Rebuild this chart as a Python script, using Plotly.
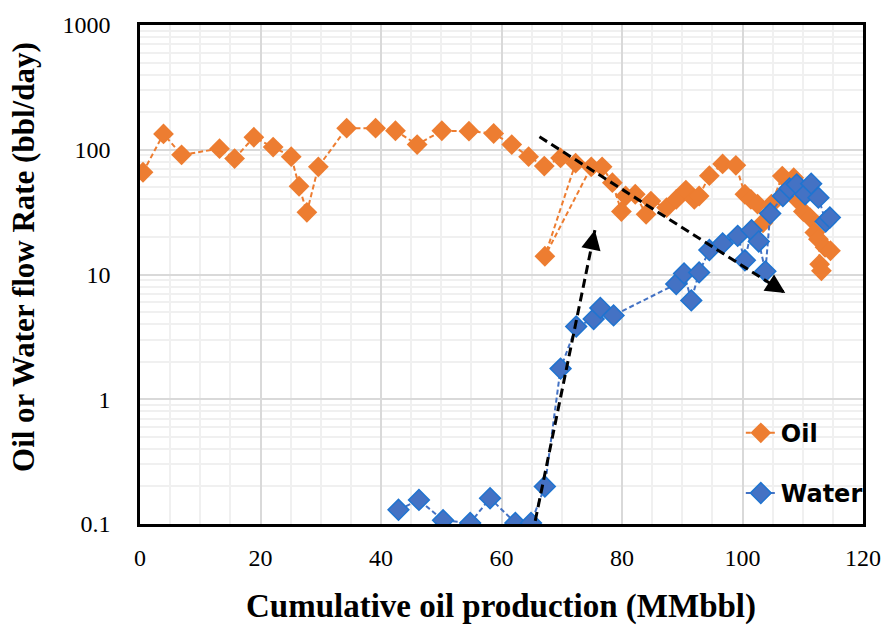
import plotly.graph_objects as go
import math

# Cumulative oil production (MMbbl) and oil rate (bbl/day)
oil_cum = [0.5, 3.9, 6.9, 13.2, 15.7, 18.9, 22.1, 25.1, 26.4, 27.7, 29.6, 34.3,
           39.1, 42.4, 46.0, 50.1, 54.6, 58.7, 61.7, 64.5, 67.1, 69.8, 72.3, 67.2,
           74.9, 76.7, 78.4, 79.9, 80.6, 82.2, 84.0, 84.8, 87.4, 89.0, 90.6, 92.0,
           92.8, 94.5, 96.7, 98.9, 100.4, 101.4, 102.5, 103.4, 104.8, 106.6, 108.5,
           109.3, 110.1, 111.2, 112.0, 112.6, 112.8, 113.1, 113.7, 114.6]
oil_rate = [66, 134, 91, 102, 85, 126, 105, 88, 51, 31.5, 73, 149,
            149, 142, 110, 142, 141, 135, 110, 88, 74, 86, 78, 14,
            73, 73, 54.5, 32, 42.6, 44, 30.4, 38.8, 34.4, 40, 47.5, 40,
            42.6, 62, 77, 75, 44, 40, 36.6, 26, 36.6, 61.5, 59.7,
            38.8, 32, 28.6, 21.7, 19.2, 12.1, 10.7, 16.5, 15.5]

# Cumulative oil production (MMbbl) and water rate (bbl/day)
water_cum = [42.9, 46.3, 50.3, 54.8, 58.1, 62.3, 64.9, 67.2, 69.8, 72.4, 75.3,
             76.4, 78.6, 89.0, 90.3, 91.5, 92.8, 94.5, 96.7, 99.2, 100.4, 101.5,
             102.7, 103.8, 104.6, 106.7, 107.8, 109.0, 110.4, 111.4, 112.6,
             113.8, 114.5]
water_rate = [0.13, 0.156, 0.107, 0.102, 0.161, 0.102, 0.102, 0.2, 1.76, 3.83, 4.4,
              5.4, 4.7, 8.4, 10.2, 6.2, 10.4, 15.7, 17.7, 20.4, 13, 22.6,
              18.4, 10.6, 30.8, 42.6, 49, 52.8, 44, 53.5, 41.3,
              26.6, 28.6]

# Trend arrows: (start x, start y) -> (tip x, tip y)
trend_water = [(65.6, 0.106), (75.5, 22.7)]
trend_oil = [(66.3, 127), (107.1, 7.1)]

y_ticks = [0.1, 1, 10, 100, 1000]
y_tick_text = ["0.1", "1", "10", "100", "1000"]
y_minor = [m * 10 ** d for d in range(-1, 3) for m in range(2, 10)]

x_title = "Cumulative oil production (MMbbl)"
y_title = "Oil or Water flow Rate (bbl/day)"

OIL = "#ED7D31"
WATER = "#4472C4"

W, H = 893, 627
L, R, T, B = 140, 22, 20, 103
pw = W - L - R
ph = H - T - B

fig = go.Figure()

fig.add_trace(go.Scatter(
    x=oil_cum, y=oil_rate, mode="lines+markers", name="Oil",
    legendgroup="oil",
    line=dict(color=OIL, width=2, dash="5px,3px"),
    marker=dict(symbol="diamond", size=16, color=OIL, line=dict(width=0)),
))
fig.add_trace(go.Scatter(
    x=water_cum, y=water_rate, mode="lines+markers", name="Water",
    legendgroup="water",
    line=dict(color=WATER, width=2, dash="5px,3px"),
    marker=dict(symbol="diamond", size=16, color=WATER,
                line=dict(width=1.5, color="#1F74D0")),
))

# Dashed trend arrow shafts
for seg in (trend_water, trend_oil):
    fig.add_trace(go.Scatter(
        x=[seg[0][0], seg[1][0]], y=[seg[0][1], seg[1][1]], mode="lines",
        line=dict(color="black", width=3, dash="9px,5px"),
        showlegend=False, hoverinfo="skip",
    ))


def to_px(x, y):
    return (x / 120 * pw, -(math.log10(y) + 1) / 4 * ph)


# Arrow heads at the tips, pointing along each shaft
annotations = []
for seg in (trend_water, trend_oil):
    (x0, y0), (x1, y1) = seg
    p0, p1 = to_px(x0, y0), to_px(x1, y1)
    dx, dy = p1[0] - p0[0], p1[1] - p0[1]
    n = math.hypot(dx, dy)
    back = 16
    annotations.append(dict(
        x=x1, y=math.log10(y1), xref="x", yref="y", text="",
        showarrow=True, arrowhead=2, arrowsize=1.5, arrowwidth=2.6,
        arrowcolor="black", ax=-dx / n * back, ay=-dy / n * back,
    ))

# Axis titles placed in paper space
title_font = dict(family="Liberation Serif", size=33, color="black", weight="bold")
annotations.append(dict(
    text=x_title, xref="paper", yref="paper",
    x=(505 - L) / pw, y=-(607 - (H - B)) / ph,
    xanchor="center", yanchor="middle", showarrow=False, font=title_font,
))
annotations.append(dict(
    text=y_title, xref="paper", yref="paper", textangle=-90,
    x=-(L - 22) / pw, y=1 - (254 - T) / ph,
    xanchor="center", yanchor="middle", showarrow=False,
    font=dict(title_font, size=31),
))

fig.update_layout(
    width=W, height=H,
    margin=dict(l=L, r=R, t=T, b=B),
    paper_bgcolor="white", plot_bgcolor="white",
    annotations=annotations,
    showlegend=True,
    legend=dict(
        x=0.831, y=0.227, xanchor="left", yanchor="top",
        font=dict(family="DejaVu Sans", size=24, color="black", weight="bold"),
        bgcolor="rgba(0,0,0,0)", tracegroupgap=26, traceorder="grouped",
    ),
    xaxis=dict(
        range=[0, 120], dtick=20, tick0=0,
        showline=True, linecolor="black", linewidth=2.5, mirror=True,
        showgrid=True, gridcolor="#d9d9d9", gridwidth=2,
        minor=dict(dtick=5, showgrid=True, gridcolor="#f0f0f0", gridwidth=2),
        ticks="", zeroline=False,
        tickfont=dict(family="Liberation Serif", size=24, color="black"),
        ticklabelstandoff=10,
    ),
    yaxis=dict(
        type="log", range=[-1, 3],
        tickvals=y_ticks, ticktext=y_tick_text,
        showline=True, linecolor="black", linewidth=2.5, mirror=True,
        showgrid=True, gridcolor="#d9d9d9", gridwidth=2,
        minor=dict(tickvals=y_minor, showgrid=True, gridcolor="#f0f0f0", gridwidth=2),
        ticks="", zeroline=False,
        tickfont=dict(family="Liberation Serif", size=24, color="black"),
        ticklabelstandoff=22,
    ),
)

fig.write_html("out.html")
